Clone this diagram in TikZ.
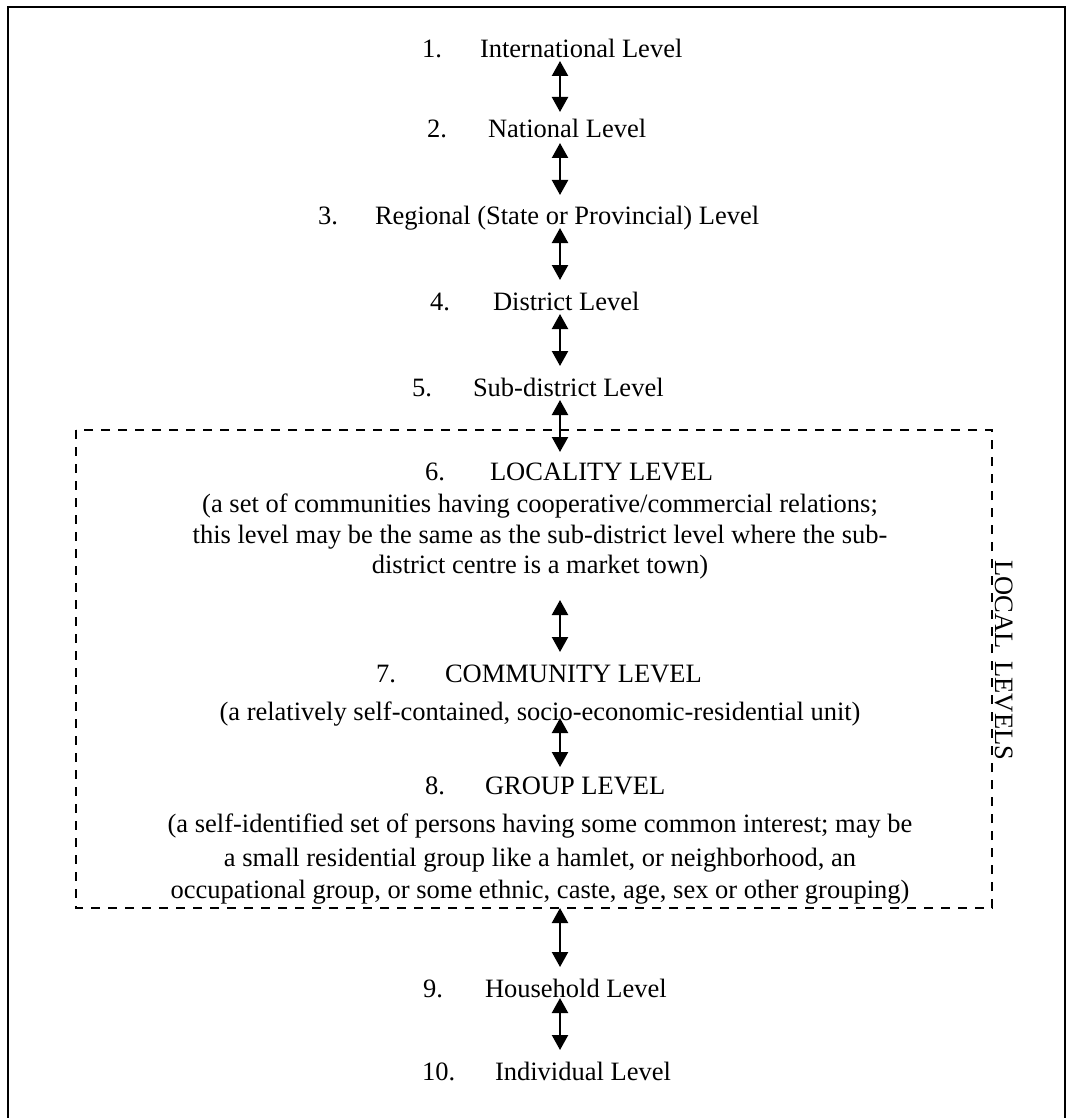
\documentclass[tikz,border=0pt]{standalone}
\usepackage{fontspec}
\setmainfont{Liberation Serif}
\usetikzlibrary{arrows.meta}
\begin{document}
\begin{tikzpicture}[x=1pt,y=-1pt,
  every node/.style={inner sep=0pt, outer sep=0pt, font=\fontsize{26.5}{30}\selectfont},
  lbl/.style={anchor=base west},
  para/.style={anchor=base},
  link/.style={line width=2.2pt, {Triangle[width=16pt,length=15pt]}-{Triangle[width=16pt,length=15pt]}},
  frame/.style={line width=2pt},
  localbox/.style={line width=2.2pt, dash pattern=on 9pt off 8pt}]
\useasboundingbox (0,0) rectangle (1067,1118);

% outer frame (open at the bottom)
\draw[frame] (8,1125) -- (8,7) -- (1065,7) -- (1065,1125);

% dashed box round the local levels
\draw[localbox] (76,430) rectangle (992,908);
\node[anchor=base west, rotate=-90] (loc) at (995,560) {LOCAL\ \ LEVELS};

% level headings
\node[lbl] (n1) at (422,58) {1.};   \node[lbl] (l1) at (480,58) {International Level};
\node[lbl] (n2) at (427,138) {2.};  \node[lbl] (l2) at (488,138) {National Level};
\node[lbl] (n3) at (318,224) {3.};  \node[lbl] (l3) at (375,224) {Regional (State or Provincial) Level};
\node[lbl] (n4) at (430,310) {4.};  \node[lbl] (l4) at (493,310) {District Level};
\node[lbl] (n5) at (412,396) {5.};  \node[lbl] (l5) at (473,396) {Sub-district Level};
\node[lbl] (n6) at (425,480) {6.};  \node[lbl] (l6) at (490,480) {LOCALITY LEVEL};
\node[para] (p6a) at (540,512) {(a set of communities having cooperative/commercial relations;};
\node[para] (p6b) at (540,543) {this level may be the same as the sub-district level where the sub-};
\node[para] (p6c) at (540,573) {district centre is a market town)};
\node[lbl] (n7) at (376,682) {7.};  \node[lbl] (l7) at (445,682) {COMMUNITY LEVEL};
\node[para] (p7a) at (540,720) {(a relatively self-contained, socio-economic-residential unit)};
\node[lbl] (n8) at (425,794) {8.};  \node[lbl] (l8) at (485,794) {GROUP LEVEL};
\node[para] (p8a) at (540,832) {(a self-identified set of persons having some common interest; may be};
\node[para] (p8b) at (540,866) {a small residential group like a hamlet, or neighborhood, an};
\node[para] (p8c) at (540,898) {occupational group, or some ethnic, caste, age, sex or other grouping)};
\node[lbl] (n9) at (423,997) {9.};   \node[lbl] (l9) at (485,997) {Household Level};
\node[lbl] (n10) at (422,1080) {10.}; \node[lbl] (l10) at (495,1080) {Individual Level};

% two-way links between successive levels
\foreach \i/\a/\b in {1/61/112, 2/143/195, 3/228/280, 4/314/366, 5/400/452,
                      6/600/652, 7/718/767, 8/908/967, 9/998/1050} {
  \coordinate (s\i) at (560,\a);
  \coordinate (e\i) at (560,\b);
  \draw[link] (s\i) -- (e\i);
}
\end{tikzpicture}
\end{document}
